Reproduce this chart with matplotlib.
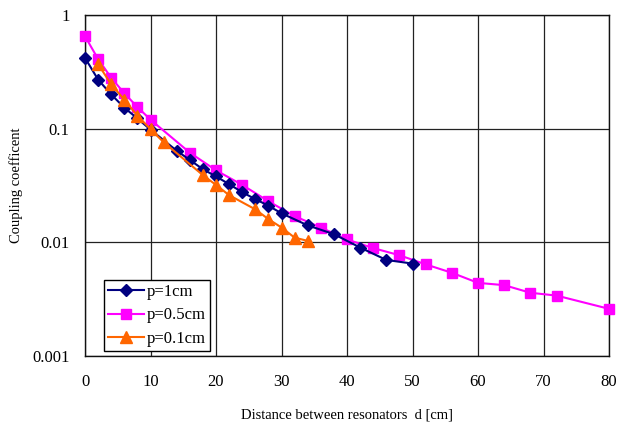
import matplotlib
matplotlib.use("Agg")
import matplotlib.pyplot as plt

# p = 1 cm
d_1 = [0, 2, 4, 6, 8, 10, 14, 16, 18, 20, 22, 24, 26, 28, 30, 34, 38, 42, 46, 50]
k_1 = [0.42, 0.27, 0.20, 0.153, 0.123, 0.098, 0.064, 0.053, 0.044, 0.038,
       0.0325, 0.0276, 0.024, 0.021, 0.018, 0.0141, 0.0118, 0.0090, 0.0070, 0.0065]

# p = 0.5 cm
d_05 = [0, 2, 4, 6, 8, 10, 16, 20, 24, 28, 32, 36, 40, 44, 48, 52, 56, 60, 64, 68, 72, 80]
k_05 = [0.65, 0.41, 0.28, 0.205, 0.155, 0.12, 0.0615, 0.043, 0.032, 0.023, 0.017,
        0.0135, 0.0106, 0.0089, 0.0077, 0.0064, 0.0054, 0.0044, 0.0042, 0.0036,
        0.0034, 0.0026]

# p = 0.1 cm
d_01 = [2, 4, 6, 8, 10, 12, 18, 20, 22, 26, 28, 30, 32, 34]
k_01 = [0.37, 0.245, 0.18, 0.13, 0.099, 0.076, 0.039, 0.032, 0.026, 0.0195,
        0.016, 0.0135, 0.011, 0.0103]

plt.rcParams['font.family'] = ['Liberation Serif', 'DejaVu Serif']

fig = plt.figure(figsize=(6.18, 4.24), dpi=100)
ax = fig.add_axes([85 / 618, 1 - 356 / 424, 524 / 618, 341 / 424])

ax.plot(d_1, k_1, color='#000080', marker='D', markersize=6.5, lw=1.5,
        label='p=1cm', zorder=4, clip_on=False)
ax.plot(d_05, k_05, color='#FF00FF', marker='s', markersize=7.2, lw=1.5,
        label='p=0.5cm', zorder=3, clip_on=False)
ax.plot(d_01, k_01, color='#FF6600', marker='^', markersize=8, lw=1.5,
        label='p=0.1cm', zorder=5, clip_on=False)

ax.set_yscale('log')
ax.set_xlim(0, 80)
ax.set_ylim(0.001, 1)
ax.set_xticks(range(0, 81, 10))
ax.set_yticks([0.001, 0.01, 0.1, 1])
ax.set_yticklabels(['0.001', '0.01', '0.1', '1'])
ax.yaxis.set_minor_locator(matplotlib.ticker.NullLocator())
ax.tick_params(length=0, labelsize=12)
ax.tick_params(axis='x', pad=13)
ax.tick_params(axis='y', pad=11)
ax.grid(True, color='#222222', lw=0.9)
for s in ax.spines.values():
    s.set_color('#111111')
    s.set_linewidth(1.0)

ax.set_xlabel('Distance between resonators  d [cm]', fontsize=10.5)
ax.set_ylabel('Coupling coefficent', fontsize=10.5)
ax.xaxis.set_label_coords(0.5, -0.155)
ax.yaxis.set_label_coords(-0.118, 0.5)

leg = ax.legend(loc='lower left', bbox_to_anchor=(19 / 524, 5 / 341), borderaxespad=0,
                fancybox=False, framealpha=1, edgecolor='black', fontsize=12,
                handlelength=2.15, handletextpad=0.15, labelspacing=0.45,
                borderpad=0.25)
leg.get_frame().set_linewidth(1.0)

fig.savefig('out.png', dpi=100)
